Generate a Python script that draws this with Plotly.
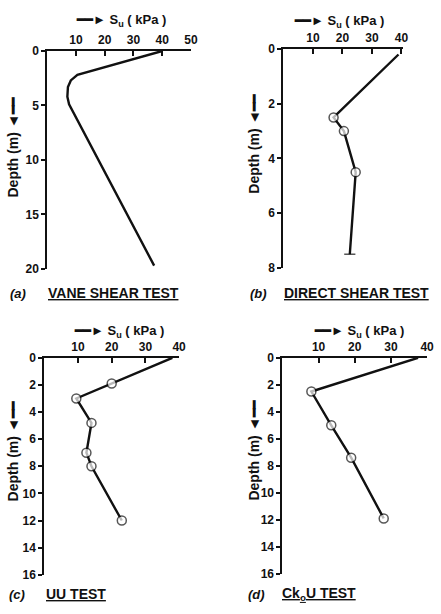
import plotly.graph_objects as go

# ---- data ----
vane_su = [40, 10.5, 8.2, 7.2, 7.0, 7.6, 37.2]
vane_depth = [0, 2.2, 2.7, 3.3, 4.2, 4.9, 19.7]

ds_su = [39, 17, 20.5, 24.5, 22.5]
ds_depth = [0.2, 2.5, 3.0, 4.5, 7.5]

uu_su = [38, 20, 9.5, 14, 12.5, 14, 23]
uu_depth = [0, 1.9, 3.0, 4.8, 7.0, 8.0, 12.0]

ck_su = [37.5, 8, 13.5, 19, 28]
ck_depth = [0, 2.5, 5.0, 7.4, 11.9]

xticks_a = [10, 20, 30, 40, 50]
xticks_bcd = [10, 20, 30, 40]
yticks_a = [0, 5, 10, 15, 20]
yticks_b = [0, 2, 4, 6, 8]
yticks_cd = [0, 2, 4, 6, 8, 10, 12, 14, 16]

captions = ["(a)", "(b)", "(c)", "(d)"]
titles = ["VANE SHEAR TEST", "DIRECT SHEAR TEST", "UU TEST", "Ck<sub>o</sub>U TEST"]

W, H = 441, 614
FONT = "Liberation Sans"
INK = "#111111"

def px(x):
    return x / W

def py(y):
    return 1 - y / H

fig = go.Figure()

line_style = dict(color=INK, width=2.4)

def msizes(n, first=0, last=None):
    s = [9] * n
    s[0] = first
    if last is not None:
        s[-1] = last
    return s

mline = dict(color=INK, width=1.5)

# (a)
fig.add_trace(go.Scatter(x=vane_su, y=vane_depth, mode="lines", line=line_style,
                         xaxis="x", yaxis="y", showlegend=False))
# (b)
ds_sym = ["circle"] * len(ds_su)
ds_sym[-1] = "line-ew"
fig.add_trace(go.Scatter(x=ds_su, y=ds_depth, mode="lines+markers", line=line_style,
                         marker=dict(symbol=ds_sym, size=msizes(len(ds_su), 0, 8), color="white",
                                     line=mline),
                         xaxis="x2", yaxis="y2", showlegend=False, cliponaxis=False))
# (c)
fig.add_trace(go.Scatter(x=uu_su, y=uu_depth, mode="lines+markers", line=line_style,
                         marker=dict(symbol="circle", size=msizes(len(uu_su)), color="white",
                                     line=mline),
                         xaxis="x3", yaxis="y3", showlegend=False, cliponaxis=False))
# (d)
fig.add_trace(go.Scatter(x=ck_su, y=ck_depth, mode="lines+markers", line=line_style,
                         marker=dict(symbol="circle", size=msizes(len(ck_su)), color="white",
                                     line=mline),
                         xaxis="x4", yaxis="y4", showlegend=False, cliponaxis=False))

tickfont = dict(family=FONT, size=12, color=INK, weight="bold")

def xax(domain, rng, tickvals, anchor):
    return dict(domain=domain, range=rng, side="top", anchor=anchor, showline=True,
                linewidth=2, linecolor=INK, ticks="inside", ticklen=5, tickwidth=2,
                tickcolor=INK, tickvals=tickvals, showgrid=False, zeroline=False,
                tickfont=tickfont, fixedrange=True)

def yax(domain, rng, tickvals, anchor):
    return dict(domain=domain, range=rng, anchor=anchor, showline=True,
                linewidth=2, linecolor=INK, ticks="outside", ticklen=4, tickwidth=2,
                tickcolor=INK, tickvals=tickvals, showgrid=False, zeroline=False,
                tickfont=tickfont, fixedrange=True)

# panel geometry in pixels (left, right, top, bottom)
A = (48, 194, 45, 268)
B = (288, 410, 43, 267)
C = (45, 182, 359, 581)
D = (287, 434, 359, 580)

fig.update_layout(
    xaxis=xax([px(A[0]), px(A[1])], [0, 50], xticks_a, "y"),
    yaxis=yax([py(A[3]), py(A[2])], [20, 0], yticks_a, "x"),
    xaxis2=xax([px(B[0]), px(B[1])], [0, 40.7], xticks_bcd, "y2"),
    yaxis2=yax([py(B[3]), py(B[2])], [8, 0], yticks_b, "x2"),
    xaxis3=xax([px(C[0]), px(C[1])], [0, 40], xticks_bcd, "y3"),
    yaxis3=yax([py(C[3]), py(C[2])], [16, 0], yticks_cd, "x3"),
    xaxis4=xax([px(D[0]), px(D[1])], [0, 40], xticks_bcd, "y4"),
    yaxis4=yax([py(D[3]), py(D[2])], [16, 0], yticks_cd, "x4"),
    width=W, height=H, margin=dict(l=0, r=0, t=0, b=0),
    paper_bgcolor="white", plot_bgcolor="white",
    font=dict(family=FONT, color=INK),
)

ann = []
afont = dict(family=FONT, size=13, color=INK, weight="bold")
# S_u titles
for cx, cy in [(123, 14), (344, 15), (121, 332), (365, 332)]:
    ann.append(dict(x=px(cx), y=py(cy), xref="paper", yref="paper", showarrow=False,
                    text="━━► S<sub>u</sub> ( kPa )", font=afont, xanchor="center", yanchor="middle"))
# depth titles
for cx, cy in [(13, 144), (258, 140), (13, 455), (258, 454)]:
    ann.append(dict(x=px(cx), y=py(cy), xref="paper", yref="paper", showarrow=False,
                    text="Depth (m) ◄━━", textangle=-90,
                    font=dict(family=FONT, size=14, color=INK, weight="bold"),
                    xanchor="center", yanchor="middle"))
# captions
for (lx, tx, cy), cap, ttl in zip([(8, 47, 293), (252, 287, 293), (7, 45, 601), (250, 285, 601)],
                                  captions, titles):
    ann.append(dict(x=px(lx), y=py(cy), xref="paper", yref="paper", showarrow=False,
                    text="<i>" + cap + "</i>", font=afont, xanchor="left", yanchor="middle"))
    ann.append(dict(x=px(tx), y=py(cy), xref="paper", yref="paper", showarrow=False,
                    text="<u>" + ttl + "</u>", font=dict(family=FONT, size=14, color=INK, weight="bold"),
                    xanchor="left", yanchor="middle"))
fig.update_layout(annotations=ann)

fig.write_html("out.html", config={"displayModeBar": False},
               post_script="document.body.style.margin='0';")
